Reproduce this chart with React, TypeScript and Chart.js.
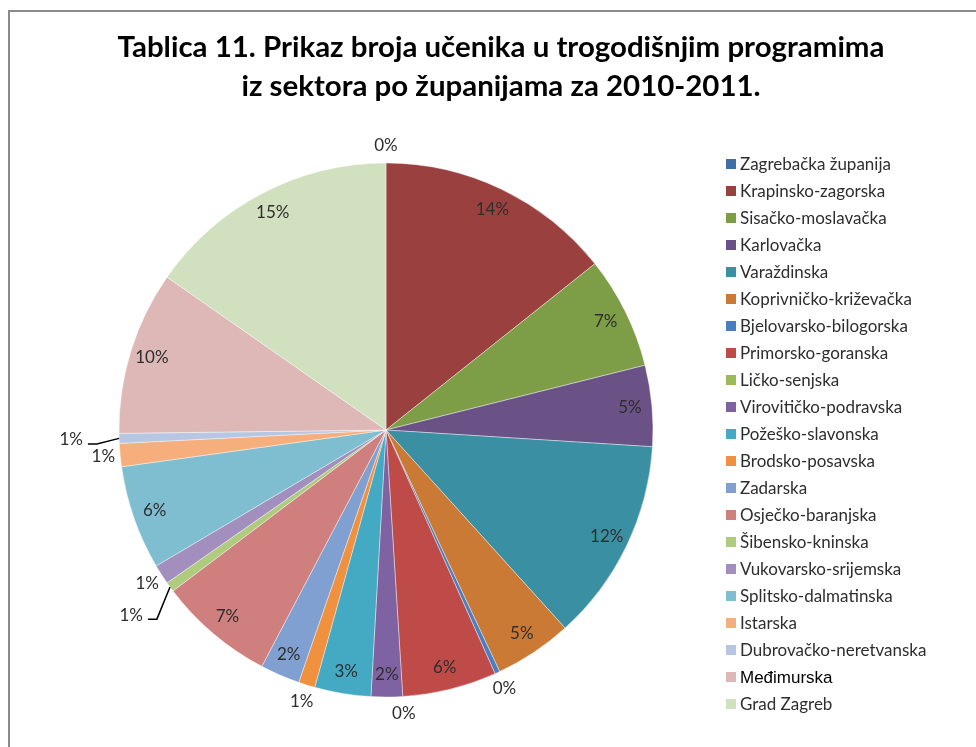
import React, { useEffect, useRef } from "react";
import { Chart, registerables } from "chart.js";

Chart.register(...registerables);

const counties = [
  "Zagrebačka županija",
  "Krapinsko-zagorska",
  "Sisačko-moslavačka",
  "Karlovačka",
  "Varaždinska",
  "Koprivničko-križevačka",
  "Bjelovarsko-bilogorska",
  "Primorsko-goranska",
  "Ličko-senjska",
  "Virovitičko-podravska",
  "Požeško-slavonska",
  "Brodsko-posavska",
  "Zadarska",
  "Osječko-baranjska",
  "Šibensko-kninska",
  "Vukovarsko-srijemska",
  "Splitsko-dalmatinska",
  "Istarska",
  "Dubrovačko-neretvanska",
  "Međimurska",
  "Grad Zagreb",
];

const shares = [
  0, 14.3, 6.8, 4.9, 12.3, 4.7, 0.3, 5.7, 0, 1.9, 3.4, 1.0, 2.4, 7.0, 0.6, 1.2,
  6.3, 1.4, 0.6, 9.9, 15.3,
];

const colors = [
  "#3F6FA5", "#9A403E", "#7E9D47", "#6A5287", "#3A8FA3", "#CB7A35", "#4A7EC0",
  "#BE4B48", "#9BBB59", "#7F62A1", "#44A9C3", "#F0913F", "#7FA0D0", "#CF7F7E",
  "#AECB7E", "#A28FBE", "#7FBED1", "#F7AE7D", "#B7C7E3", "#DDB8B7", "#D1E0BE",
];

const titleLines = [
  "Tablica 11. Prikaz broja učenika u trogodišnjim programima",
  "iz sektora po županijama za 2010-2011.",
];

const leaderSlices = ["Šibensko-kninska", "Dubrovačko-neretvanska"];
const arialLegendEntries = ["Međimurska"];

export default function App() {
  const ref = useRef<HTMLCanvasElement>(null);

  useEffect(() => {
    const canvas = ref.current;
    if (!canvas) return;

    const fitFont = (
      ctx: CanvasRenderingContext2D,
      text: string,
      family: string,
      weight: string,
      target: number
    ) => {
      ctx.font = `${weight} 100px ${family}`;
      const w = ctx.measureText(text).width;
      return (100 * target) / w;
    };

    const overlay = {
      id: "overlay",
      beforeDraw(chart: any) {
        const ctx = chart.ctx as CanvasRenderingContext2D;
        ctx.save();
        ctx.fillStyle = "#ffffff";
        ctx.fillRect(0, 0, chart.width, chart.height);
        ctx.strokeStyle = "#8a8a8a";
        ctx.lineWidth = 2;
        ctx.strokeRect(9, 11, chart.width + 20, chart.height + 20);
        ctx.restore();
      },
      afterDraw(chart: any) {
        const ctx = chart.ctx as CanvasRenderingContext2D;
        ctx.save();

        // Title
        const tSize = fitFont(ctx, titleLines[0], "Lato", "bold", 767);
        ctx.font = `bold ${tSize}px Lato`;
        ctx.fillStyle = "#000000";
        ctx.textAlign = "center";
        ctx.textBaseline = "middle";
        ctx.fillText(titleLines[0], 501, 47);
        ctx.fillText(titleLines[1], 501, 86);

        // Legend
        const lSize = fitFont(ctx, counties[0], "Lato", "normal", 151);
        counties.forEach((name, i) => {
          const y = 164 + i * 27;
          ctx.fillStyle = colors[i];
          ctx.fillRect(726, y - 5, 10, 10);
          if (arialLegendEntries.includes(name)) {
            ctx.font = `normal ${lSize}px "Liberation Sans"`;
            ctx.fillStyle = "#000000";
          } else {
            ctx.font = `normal ${lSize}px Lato`;
            ctx.fillStyle = "#2e2e2e";
          }
          ctx.textAlign = "left";
          ctx.textBaseline = "middle";
          ctx.fillText(name, 740, y + 1);
        });

        // Data labels
        const meta = chart.getDatasetMeta(0);
        const data = chart.data.datasets[0].data as number[];
        const total = data.reduce((a, b) => a + b, 0);
        ctx.font = `normal ${lSize}px Lato`;
        ctx.fillStyle = "#2e2e2e";
        ctx.textAlign = "center";
        ctx.textBaseline = "middle";
        meta.data.forEach((arc: any, i: number) => {
          const { x, y, startAngle, endAngle, outerRadius } = arc.getProps(
            ["x", "y", "startAngle", "endAngle", "outerRadius"],
            true
          );
          const mid = (startAngle + endAngle) / 2;
          const pct = (data[i] / total) * 100;
          const text = `${Math.round(pct)}%`;
          const leader = leaderSlices.includes(counties[i]);
          let r: number;
          if (leader) r = outerRadius + 48;
          else if (pct >= 1.5) r = outerRadius - 22;
          else r = outerRadius + 17;
          const lx = x + Math.cos(mid) * r;
          const ly = y + Math.sin(mid) * r;
          ctx.fillText(text, lx, ly);
          if (leader) {
            const ex = x + Math.cos(mid) * outerRadius;
            const ey = y + Math.sin(mid) * outerRadius;
            const half = ctx.measureText(text).width / 2;
            ctx.strokeStyle = "#000000";
            ctx.lineWidth = 1.5;
            ctx.beginPath();
            ctx.moveTo(ex, ey);
            ctx.lineTo(lx + half + 14, ly + 4);
            ctx.lineTo(lx + half + 5, ly + 4);
            ctx.stroke();
          }
        });

        ctx.restore();
      },
    };

    const chart = new Chart(canvas, {
      type: "pie",
      data: {
        labels: counties,
        datasets: [
          {
            data: shares,
            backgroundColor: colors,
            borderColor: "rgba(255,255,255,0.5)",
            borderWidth: 0.8,
            radius: 267,
          } as any,
        ],
      },
      options: {
        responsive: false,
        animation: false,
        layout: { padding: { left: 119, right: 323, top: 163, bottom: 50 } },
        plugins: {
          legend: { display: false },
          tooltip: { enabled: false },
          title: { display: false },
        },
      },
      plugins: [overlay],
    });

    return () => chart.destroy();
  }, []);

  return (
    <div
      style={{
        position: "absolute",
        left: 0,
        top: 0,
        width: 976,
        height: 747,
        background: "#ffffff",
      }}
    >
      <canvas ref={ref} width={976} height={747} style={{ display: "block" }} />
    </div>
  );
}
